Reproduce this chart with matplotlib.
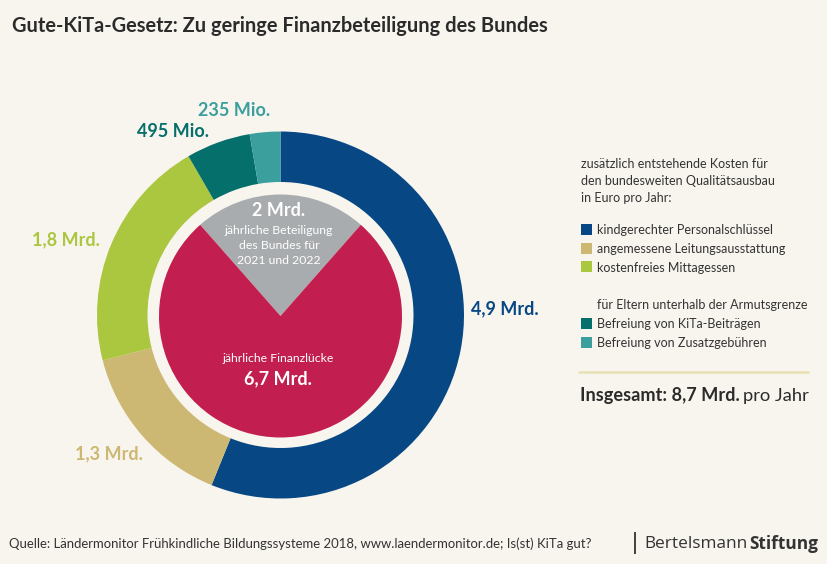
import matplotlib
matplotlib.use("Agg")
import matplotlib.pyplot as plt
from matplotlib.patches import Rectangle

plt.rcParams['font.family'] = ['Lato', 'DejaVu Sans']

BG = '#f8f5ef'
DARK = '#333333'

ring_values = [4.9, 1.3, 1.8, 0.495, 0.235]
ring_colors = ['#074884', '#cdb873', '#abc63f', '#056f6b', '#3a9f9d']
ring_labels = ['4,9 Mrd.', '1,3 Mrd.', '1,8 Mrd.', '495 Mio.', '235 Mio.']
inner_values = [2.0, 6.7]
inner_colors = ['#a9acae', '#c31e50']
legend_top = ['kindgerechter Personalschlüssel', 'angemessene Leitungsausstattung', 'kostenfreies Mittagessen']
legend_bottom = ['Befreiung von KiTa-Beiträgen', 'Befreiung von Zusatzgebühren']

fig = plt.figure(figsize=(8.28, 5.64), dpi=100, facecolor=BG)
ax = fig.add_axes([0, 0, 1, 1])
H = 564
def Y(p):
    return H - p

ax.pie(ring_values, colors=ring_colors, center=(280.5, Y(315)), radius=183.5, startangle=90,
       counterclock=False, wedgeprops=dict(width=50.5, linewidth=0))
half = inner_values[0] / sum(inner_values) * 360 / 2
ax.pie(inner_values, colors=inner_colors, center=(280.5, Y(316)), radius=121.5, startangle=90 + half,
       counterclock=False, wedgeprops=dict(linewidth=0))
ax.set_xlim(0, 828)
ax.set_ylim(0, 564)
ax.set_aspect('equal')
ax.axis('off')

def T(x, y, s, size, color=DARK, weight='normal', ha='left', va='center', family=None):
    t = ax.text(x, Y(y + 1), s, fontsize=size, color=color, fontweight=weight, ha=ha, va=va)
    if family:
        t.set_family(family)
    return t

T(12, 25.5, 'Gute-KiTa-Gesetz: Zu geringe Finanzbeteiligung des Bundes', 14.4, '#2b2b2b', 'bold')

T(505, 307.5, ring_labels[0], 13, ring_colors[0], 'bold', 'center')
T(109, 452.5, ring_labels[1], 13, ring_colors[1], 'bold', 'center')
T(66, 239, ring_labels[2], 13, ring_colors[2], 'bold', 'center')
T(173, 130.5, ring_labels[3], 13, ring_colors[3], 'bold', 'center')
T(234, 109.5, ring_labels[4], 13, ring_colors[4], 'bold', 'center')

T(279, 210, '2 Mrd.', 13, 'white', 'bold', 'center')
T(279, 229.5, 'jährliche Beteiligung', 8.8, 'white', 'normal', 'center')
T(279, 244.5, 'des Bundes für', 8.8, 'white', 'normal', 'center')
T(279, 259.5, '2021 und 2022', 8.8, 'white', 'normal', 'center')
T(278, 357, 'jährliche Finanzlücke', 8.8, 'white', 'normal', 'center')
T(278, 378, '6,7 Mrd.', 13, 'white', 'bold', 'center')

for y, s in zip([163, 180, 197], ['zusätzlich entstehende Kosten für', 'den bundesweiten Qualitätsausbau', 'in Euro pro Jahr:']):
    T(581, y, s, 9)

def swatch(y, c):
    ax.add_patch(Rectangle((581.5, Y(y) - 5.5), 11, 11, facecolor=c, edgecolor='none'))

for y, s, c in zip([229.5, 248.5, 267], legend_top, ring_colors[:3]):
    swatch(y, c)
    T(597, y, s, 9.0)
T(597, 304.5, 'für Eltern unterhalb der Armutsgrenze', 9.0)
for y, s, c in zip([323, 342], legend_bottom, ring_colors[3:]):
    swatch(y, c)
    T(597, y, s, 9.0)

ax.plot([578, 809], [Y(371.5), Y(371.5)], color='#e8e0b4', lw=1.8, solid_capstyle='butt')

T(580, 394.5, 'Insgesamt: 8,7 Mrd.', 13.05, '#2b2b2b', 'bold')
T(743, 394.5, 'pro Jahr', 13.2, '#2b2b2b')

T(9, 542.5, 'Quelle: Ländermonitor Frühkindliche Bildungssysteme 2018, www.laendermonitor.de; Is(st) KiTa gut?', 9.43)
ax.plot([635.5, 635.5], [Y(532), Y(554)], color='#222222', lw=1.2, solid_capstyle='butt')
T(644.5, 543, 'Bertelsmann', 12.4, DARK, family='Open Sans')
T(749, 543, 'Stiftung', 12.4, DARK, 'bold', family='Open Sans')

fig.savefig('out.png', dpi=100, facecolor=BG)
